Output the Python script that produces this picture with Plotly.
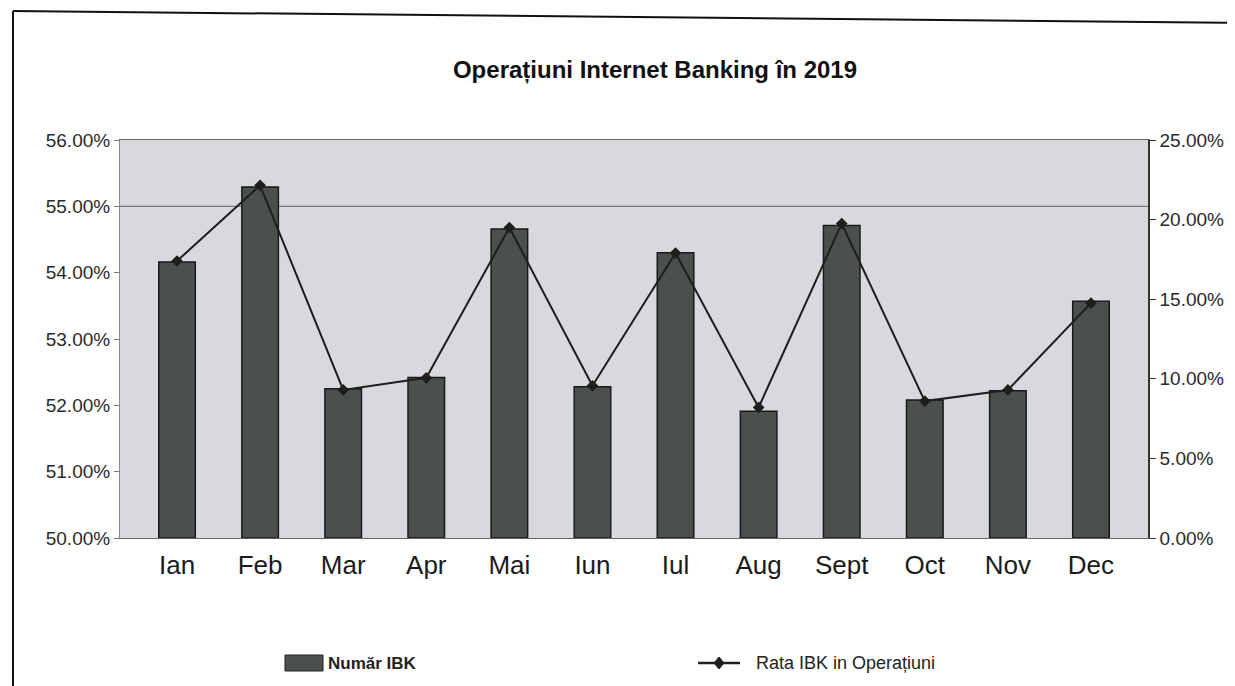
import plotly.graph_objects as go

months = ["Ian", "Feb", "Mar", "Apr", "Mai", "Iun", "Iul", "Aug", "Sept", "Oct", "Nov", "Dec"]
numar_ibk = [54.16, 55.29, 52.25, 52.42, 54.66, 52.28, 54.30, 51.91, 54.71, 52.08, 52.22, 53.57]
rata_ibk = [17.4, 22.15, 9.3, 10.06, 19.5, 9.56, 17.9, 8.2, 19.75, 8.6, 9.3, 14.75]

left_ticks = [50, 51, 52, 53, 54, 55, 56]
right_ticks = [0, 5, 10, 15, 20, 25]

FONT = "Liberation Sans, Arial, sans-serif"
BAR_COLOR = "#4a4f4f"
LINE_COLOR = "#1e1e1e"

W, H = 1227, 678
L, R, T, B = 112, 87, 132, 148
PW, PH = W - L - R, H - T - B


def px(xpage):
    return (xpage - 120) / PW


def py(ypage):
    return (538 - ypage) / PH


fig = go.Figure()
fig.add_trace(go.Bar(
    x=months, y=[v - 50 for v in numar_ibk], base=50,
    name="Număr IBK",
    marker=dict(color=BAR_COLOR, line=dict(color="#1a1a1a", width=1.5)),
    width=0.44,
    yaxis="y",
    showlegend=False,
))
fig.add_trace(go.Scatter(
    x=months, y=rata_ibk, name="Rata IBK in Operațiuni",
    mode="lines+markers",
    line=dict(color=LINE_COLOR, width=2),
    marker=dict(symbol="diamond", size=9, color=LINE_COLOR),
    yaxis="y2",
    showlegend=False,
))

fig.update_layout(
    width=W, height=H,
    margin=dict(l=L, r=R, t=T, b=B),
    paper_bgcolor="white",
    plot_bgcolor="#d8d9dc",
    title=dict(
        text="<b>Operațiuni Internet Banking în 2019</b>",
        x=(655 - 8) / W, xanchor="center",
        y=1 - (70 - 8) / H, yanchor="middle",
        font=dict(family=FONT, size=24, color="#111"),
    ),
    xaxis=dict(
        showgrid=False, showline=True, linecolor="#666", linewidth=1.2,
        mirror=True,
        ticks="", ticklabelstandoff=4,
        tickfont=dict(family=FONT, size=26, color="#1a1a1a"),
    ),
    yaxis=dict(
        range=[50, 56], tickvals=left_ticks,
        ticktext=[f"{v:.2f}%" for v in left_ticks],
        showgrid=False, zeroline=False,
        showline=True, linecolor="#888", linewidth=1,
        ticks="outside", ticklen=5, tickcolor="#777",
        tickfont=dict(family=FONT, size=19, color="#2a2a2a"),
    ),
    yaxis2=dict(
        range=[0, 25], tickvals=right_ticks,
        ticktext=[f"{v:.2f}%" for v in right_ticks],
        overlaying="y", side="right",
        showgrid=False, zeroline=False,
        showline=True, linecolor="#333", linewidth=1.5,
        ticks="outside", ticklen=6, tickcolor="#333",
        tickfont=dict(family=FONT, size=19, color="#2a2a2a"),
    ),
    showlegend=False,
)

# 55% gridline
fig.add_shape(type="line", xref="paper", yref="y", x0=0, x1=1, y0=55, y1=55,
              line=dict(color="#777", width=1.2), layer="below")

# outer frame lines
fig.add_shape(type="line", xref="paper", yref="paper",
              x0=px(13), x1=px(1240), y0=py(11), y1=py(23),
              line=dict(color="#111", width=2))
fig.add_shape(type="line", xref="paper", yref="paper",
              x0=px(13), x1=px(13), y0=py(11), y1=py(700),
              line=dict(color="#111", width=2))

# legend (drawn manually to match the original layout)
fig.add_shape(type="rect", xref="paper", yref="paper",
              x0=px(285), x1=px(323), y0=py(655), y1=py(671),
              fillcolor=BAR_COLOR, line=dict(color="#222", width=1))
fig.add_annotation(xref="paper", yref="paper", x=px(326), y=py(663),
                   xanchor="left", yanchor="middle", showarrow=False,
                   text="<b>Număr IBK</b>",
                   font=dict(family=FONT, size=17, color="#222"))
fig.add_shape(type="line", xref="paper", yref="paper",
              x0=px(698), x1=px(740), y0=py(663), y1=py(663),
              line=dict(color=LINE_COLOR, width=2.5))
fig.add_shape(type="path", xref="paper", yref="paper",
              path=(f"M {px(719)},{py(657)} L {px(724)},{py(663)} "
                    f"L {px(719)},{py(669)} L {px(714)},{py(663)} Z"),
              fillcolor=LINE_COLOR, line=dict(color=LINE_COLOR, width=1))
fig.add_annotation(xref="paper", yref="paper", x=px(754), y=py(663),
                   xanchor="left", yanchor="middle", showarrow=False,
                   text="Rata IBK in Operațiuni",
                   font=dict(family=FONT, size=18, color="#222"))

fig.write_html("out.html")
